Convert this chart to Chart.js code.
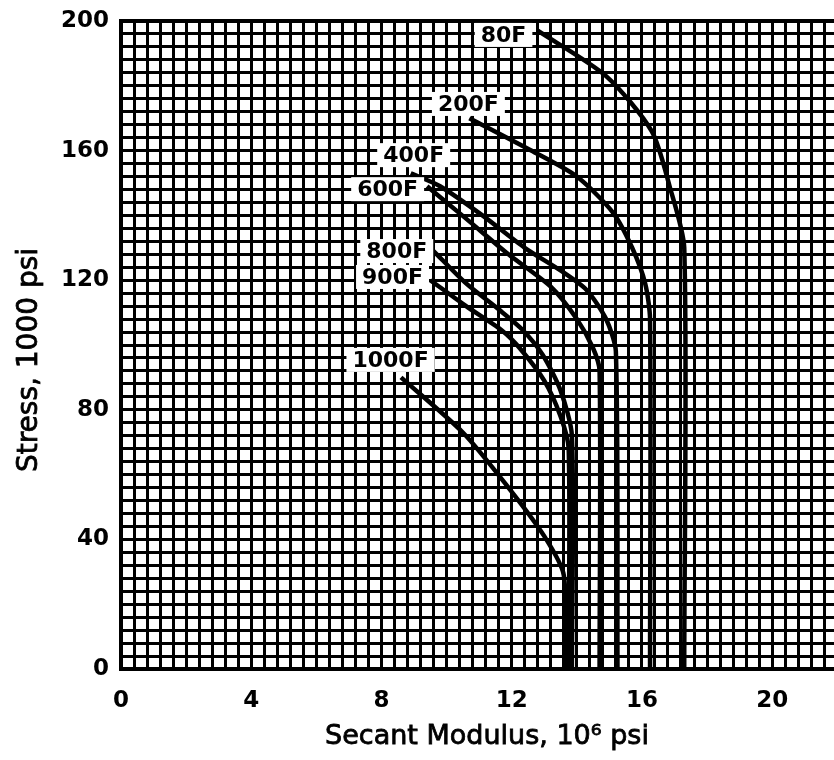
<!DOCTYPE html>
<html>
<head>
<meta charset="utf-8">
<title>Secant Modulus vs Stress</title>
<script src="https://cdn.jsdelivr.net/npm/chart.js@4/dist/chart.umd.min.js"></script>
<style>
  html, body { margin: 0; padding: 0; background: #fff; }
  #wrap { width: 834px; height: 760px; }
</style>
</head>
<body>
<div id="wrap"><canvas id="cnv" width="834" height="760"></canvas></div>
<script>
'use strict';
// Secant modulus (10^6 psi) against stress (1000 psi), one curve per test temperature.

const temps = ['80F', '200F', '400F', '600F', '800F', '900F', '1000F'];

// [modulus, stress] pairs along each curve, top end first
const curve80   = [[12.8, 197], [14.9, 183], [16.3, 166], [16.85, 149], [17.3, 130], [17.3, 0]];
const curve200  = [[10.7, 170], [12.6, 160], [14.0, 152], [15.1, 141], [15.7, 130], [16.1, 119], [16.25, 108], [16.25, 0]];
const curve400  = [[8.9, 153], [9.8, 149], [11.1, 140], [12.4, 130], [13.5, 123], [14.3, 117], [14.9, 108], [15.2, 98], [15.25, 0]];
const curve600  = [[9.4, 149], [10.6, 139], [11.9, 128], [13.2, 118], [14.0, 108], [14.5, 99], [14.7, 92], [14.7, 0]];
const curve800  = [[9.6, 129], [10.6, 119], [11.6, 111], [12.3, 105], [12.95, 97], [13.5, 86], [13.85, 72], [13.85, 0]];
const curve900  = [[9.5, 120], [10.6, 112], [11.7, 104.5], [12.25, 99], [13.0, 89], [13.5, 78], [13.75, 68], [13.75, 0]];
const curve1000 = [[8.6, 90], [10.5, 73], [11.9, 56], [13.0, 41], [13.6, 29], [13.65, 0]];
const curves = [curve80, curve200, curve400, curve600, curve800, curve900, curve1000];

// where each temperature tag is centred, [modulus, stress]
const labelAt = [[11.75, 195.7], [10.67, 174.4], [8.99, 158.6], [8.19, 148.1], [8.47, 129], [8.34, 121], [8.28, 95.4]];

const xTickLabels = [0, 4, 8, 12, 16, 20];
const yTickLabels = [0, 40, 80, 120, 160, 200];

const X_MAX = 21.9, Y_MAX = 200;
const X_STEP = 0.4, Y_STEP = 4; // fine graph-paper ruling

function ruling(step, max) {
  const out = [];
  for (let i = 0; i * step <= max + 1e-9; i++) out.push({ value: Math.round(i * step * 10) / 10 });
  return out;
}
function near(list, v) { return list.some((t) => Math.abs(t - v) < 1e-6); }

const TICK_FONT = { family: '"DejaVu Sans"', size: 23, weight: 'bold' };

const decor = {
  id: 'decor',
  afterDatasetsDraw(chart) {
    const ctx = chart.ctx, xs = chart.scales.x, ys = chart.scales.y;
    ctx.save();
    ctx.font = 'bold 22px "DejaVu Sans"';
    ctx.textAlign = 'center';
    ctx.textBaseline = 'middle';
    temps.forEach((t, i) => {
      const px = xs.getPixelForValue(labelAt[i][0]);
      const py = ys.getPixelForValue(labelAt[i][1]);
      const w = ctx.measureText(t).width;
      ctx.fillStyle = '#fff';
      ctx.fillRect(px - w / 2 - 6, py - 12, w + 12, 24);
      ctx.fillStyle = '#000';
      ctx.fillText(t, px, py + 1);
    });

    // axis titles
    ctx.fillStyle = '#000';
    ctx.strokeStyle = '#000';
    ctx.lineWidth = 0.8;
    ctx.font = '27px "DejaVu Sans"';
    ctx.fillText('Secant Modulus, 10⁶ psi', 487, 737);
    ctx.strokeText('Secant Modulus, 10⁶ psi', 487, 737);
    ctx.translate(30, 360);
    ctx.rotate(-Math.PI / 2);
    ctx.font = '28px "DejaVu Sans"';
    ctx.fillText('Stress, 1000 psi', 0, 0);
    ctx.strokeText('Stress, 1000 psi', 0, 0);
    ctx.restore();
  }
};

const datasets = curves.map((c, i) => ({
  label: temps[i],
  data: c.map((p) => ({ x: p[0], y: p[1] })),
  borderColor: '#000',
  borderWidth: 4.5,
  pointRadius: 0,
  showLine: true,
  tension: 0.25,
  fill: false,
}));

new Chart(document.getElementById('cnv'), {
  type: 'scatter',
  data: { datasets },
  options: {
    responsive: false,
    animation: false,
    events: [],
    layout: { padding: { top: 21, right: 0, left: 0, bottom: 0 } },
    plugins: { legend: { display: false }, tooltip: { enabled: false } },
    scales: {
      x: {
        type: 'linear', min: 0, max: X_MAX,
        afterBuildTicks: (s) => { s.ticks = ruling(X_STEP, X_MAX); },
        afterFit: (s) => { s.height = 91; s.paddingLeft = 0; s.paddingRight = 0; },
        grid: { color: '#000', lineWidth: 3, drawTicks: false },
        border: { color: '#000', width: 4 },
        ticks: {
          autoSkip: false, maxRotation: 0, padding: 18, color: '#000', font: TICK_FONT,
          callback: (v) => (near(xTickLabels, v) ? String(v) : ''),
        },
      },
      y: {
        type: 'linear', min: 0, max: Y_MAX,
        afterBuildTicks: (s) => { s.ticks = ruling(Y_STEP, Y_MAX); },
        afterFit: (s) => { s.width = 121; s.paddingTop = 0; s.paddingBottom = 0; },
        grid: {
          color: '#000', drawTicks: false,
          lineWidth: (c) => (c.tick && c.tick.value === Y_MAX ? 4 : 3),
        },
        border: { color: '#000', width: 4 },
        ticks: {
          autoSkip: false, padding: 12, color: '#000', font: TICK_FONT,
          callback: (v) => (near(yTickLabels, v) ? String(v) : ''),
        },
      },
    },
  },
  plugins: [decor],
});
</script>
</body>
</html>
